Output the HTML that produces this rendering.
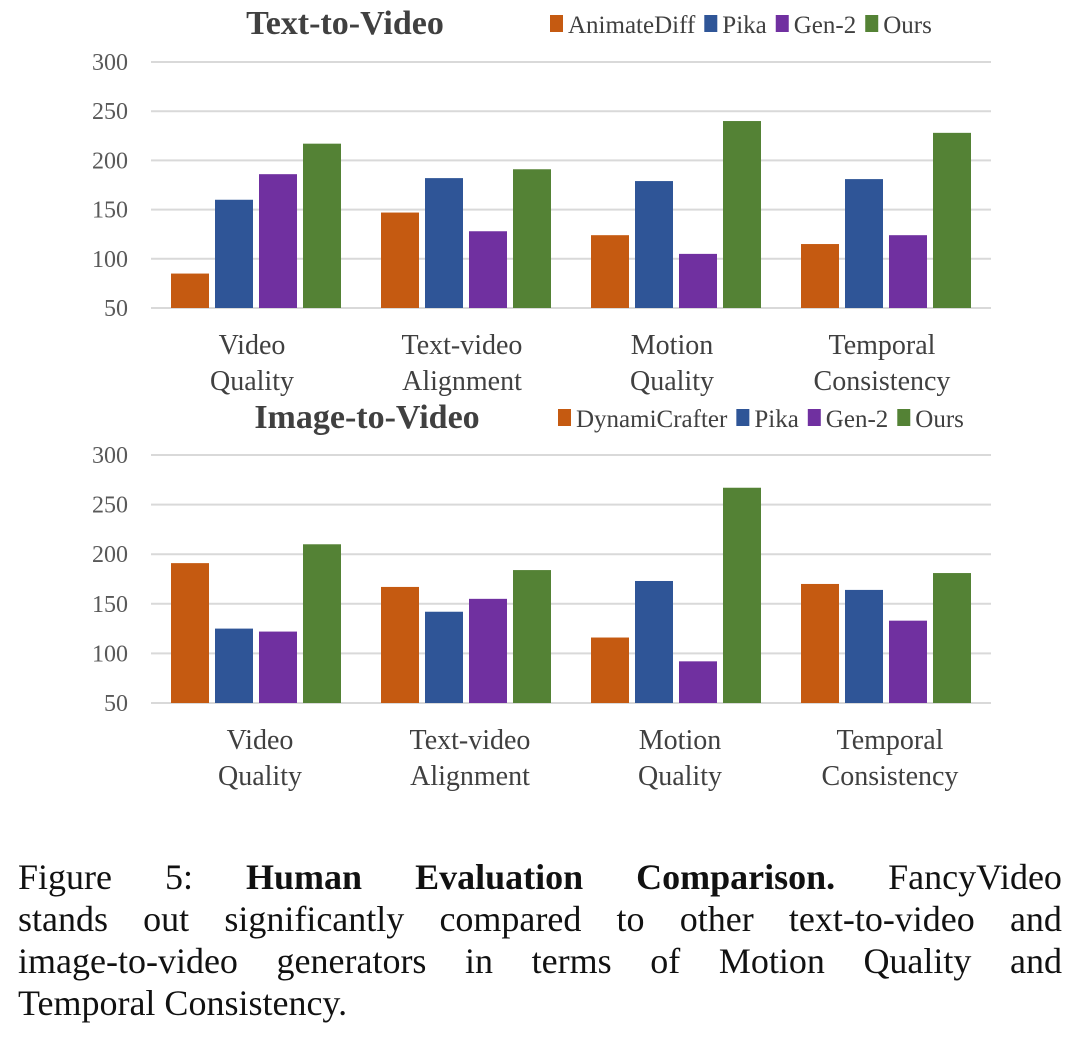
<!DOCTYPE html>
<html><head><meta charset="utf-8"><style>
body{margin:0;background:#fff;width:1080px;height:1058px;overflow:hidden}
svg text{font-family:"Liberation Serif",serif}
.cap{position:absolute;left:18px;top:856px;width:1044px;font-family:"Liberation Serif",serif;font-size:36px;line-height:42px;color:#111}
.cap div{text-align:justify;text-align-last:justify;white-space:nowrap;word-spacing:0}
.cap div.last{text-align-last:left}
</style></head><body>
<svg id="chart" width="1080" height="850" style="position:absolute;left:0;top:0"></svg>
<div class="cap">
<div style="display:flex;justify-content:space-between"><span>Figure</span><span>5:</span><b>Human</b><b>Evaluation</b><b>Comparison.</b><span>FancyVideo</span></div>
<div style="display:flex;justify-content:space-between"><span>stands</span><span>out</span><span>significantly</span><span>compared</span><span>to</span><span>other</span><span>text-to-video</span><span>and</span></div>
<div style="display:flex;justify-content:space-between"><span>image-to-video</span><span>generators</span><span>in</span><span>terms</span><span>of</span><span>Motion</span><span>Quality</span><span>and</span></div>
<div class="last">Temporal Consistency.</div>
</div>
<script>
const categories=[["Video","Quality"],["Text-video","Alignment"],["Motion","Quality"],["Temporal","Consistency"]];
const ticks=[50,100,150,200,250,300];
const t2vSeries=["AnimateDiff","Pika","Gen-2","Ours"];
const t2vAnimateDiff=[85,147,124,115];
const t2vPika=[160,182,179,181];
const t2vGen2=[186,128,105,124];
const t2vOurs=[217,191,240,228];
const i2vSeries=["DynamiCrafter","Pika","Gen-2","Ours"];
const i2vDynami=[191,167,116,170];
const i2vPika=[125,142,173,164];
const i2vGen2=[122,155,92,133];
const i2vOurs=[210,184,267,181];
const colors=["#c55a11","#2f5597","#7030a0","#548235"];
const NS="http://www.w3.org/2000/svg";
const svg=document.getElementById('chart');
function mk(t,a,p){const e=document.createElementNS(NS,t);for(const k in a)e.setAttribute(k,a[k]);(p||svg).appendChild(e);return e;}
function panel(o){
  const g=mk('g',{});
  
  
  const x0=151,x1=991,yTop=o.top,yBot=o.bot;
  const y=v=>yBot-(v-50)/250*(yBot-yTop);
  const gw=(x1-x0)/categories.length;
  ticks.forEach(t=>{
    const l=mk('line',{x1:x0,x2:x1,y1:y(t),y2:y(t),stroke:'#d9d9d9','stroke-width':2},g);
    
    
    const tx=mk('text',{x:128,y:y(t)+8,'text-anchor':'end','font-size':24,fill:'#595959'},g);
    tx.textContent=t;
    
    
  });
  const bw=38,step=44;
  o.data.forEach((arr,s)=>{
    arr.forEach((v,i)=>{
      const cx=x0+gw*(i+0.5);
      const bx=cx-2*step+s*step+3;
      const r=mk('rect',{x:bx,y:y(v),width:bw,height:yBot-y(v),fill:colors[s]},g);
      
      
    });
  });
  categories.forEach((c,i)=>{
    const cx=x0+gw*(i+0.5)+o.lblOff;
    c.forEach((w,k)=>{
      const t=mk('text',{x:cx,y:o.lblY+k*36,'text-anchor':'middle','font-size':28,fill:'#404040'},g);
      t.textContent=w;
      
      
    });
  });
  const ti=mk('text',{x:o.titleX,y:o.titleY,'text-anchor':'middle','font-size':34,'font-weight':'bold',fill:'#404040'},g);
  ti.textContent=o.title;
  
  
  let lx=o.legX;
  o.series.forEach((s,k)=>{
    const r=mk('rect',{x:lx,y:o.titleY-19,width:13,height:17,fill:colors[k]},g);
    
    
    const t=mk('text',{x:lx+18,y:o.titleY-1,'font-size':25,fill:'#404040'},g);
    t.textContent=s;
    
    
    lx+=18+t.getComputedTextLength()+9;
  });
}
panel({name:'text-to-video-chart',top:62,bot:308,data:[t2vAnimateDiff,t2vPika,t2vGen2,t2vOurs],series:t2vSeries,lblY:354,lblOff:-4,title:'Text-to-Video',titleX:345,titleY:34,legX:550});
panel({name:'image-to-video-chart',top:455,bot:703,data:[i2vDynami,i2vPika,i2vGen2,i2vOurs],series:i2vSeries,lblY:749,lblOff:4,title:'Image-to-Video',titleX:367,titleY:428,legX:558});
</script>
</body></html>
